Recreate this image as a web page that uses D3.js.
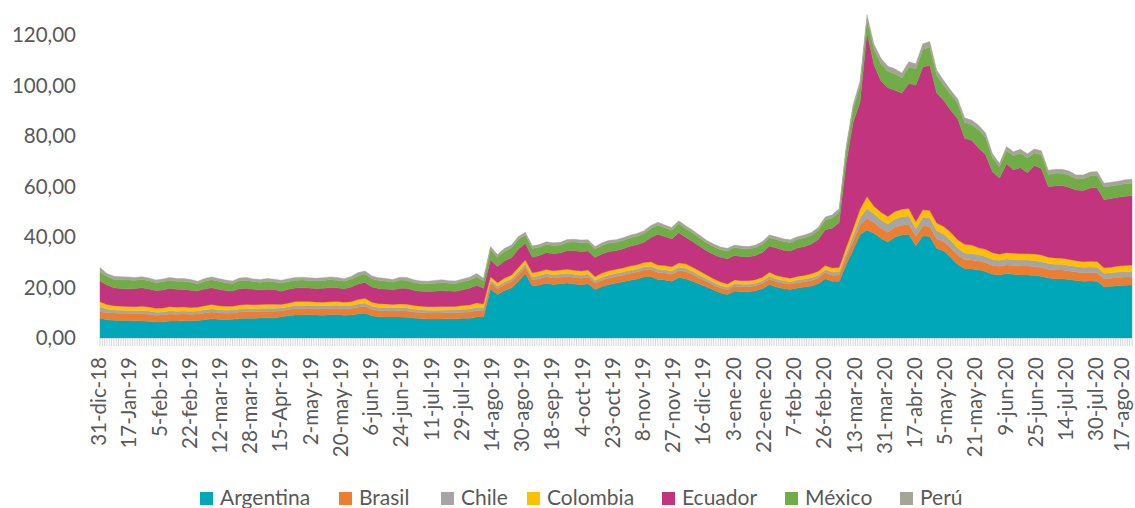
<html>
<head>
  <script src="https://d3js.org/d3.v7.min.js"></script>
  <style>
    body{
      margin: 0;
      background: #ffffff;
    }
    svg{
      display: block;
      font-family: Lato, "Open Sans", sans-serif;
    }
  </style>
</head>
<body>
  <script type="text/javascript">

    // business days on the category axis (31-dic-18 ... 19-ago-20), values read every 3rd day
    var nDays = 445;
    var sampleEvery = 3;
    var labelEvery = 13;

    var countries = ["Argentina","Brasil","Chile","Colombia","Ecuador","México","Perú"];
    var colors = ["#00A7B8","#ED7D31","#A5A5A5","#FFC000","#C3347F","#70AD47","#A4A497"];

    var tickLabels = ["31-dic-18","17-Jan-19","5-feb-19","22-feb-19","12-mar-19","28-mar-19","15-Apr-19",
      "2-may-19","20-may-19","6-jun-19","24-jun-19","11-jul-19","29-jul-19","14-ago-19","30-ago-19",
      "18-sep-19","4-oct-19","23-oct-19","8-nov-19","27-nov-19","16-dic-19","3-ene-20","22-ene-20",
      "7-feb-20","26-feb-20","13-mar-20","31-mar-20","17-abr-20","5-may-20","21-may-20","9-jun-20",
      "25-jun-20","14-jul-20","30-jul-20","17-ago-20"];

    var yTicks = [0,20,40,60,80,100,120];

    var argentina = [7.8,7.2,7.0,6.9,6.9,6.8,6.7,6.6,6.3,6.3,
      6.7,6.7,6.8,6.8,6.9,7.2,7.6,7.4,7.3,7.4,
      7.7,7.8,7.8,7.9,8.0,7.9,8.4,8.8,9.1,9.1,
      9.2,9.1,9.0,9.2,9.3,9.0,9.1,9.5,9.8,8.8,
      8.4,8.3,8.3,8.3,8.2,7.9,7.7,7.5,7.5,7.5,
      7.6,7.6,7.8,7.8,8.3,8.3,19.5,17.2,18.8,19.8,
      22.5,25.5,20.6,21.0,21.7,21.2,21.5,21.8,21.4,21.1,
      21.5,19.2,20.4,21.2,21.8,22.3,22.9,23.4,24.2,24.4,
      23.2,23.0,22.5,24.0,23.5,22.5,21.3,20.3,19.0,17.8,
      17.2,18.6,18.3,18.3,18.7,19.5,21.2,20.2,19.6,19.2,
      19.8,20.2,20.6,21.5,23.5,22.5,22.5,29.0,35.0,41.0,
      42.8,41.5,39.5,38.0,40.0,40.8,41.0,36.5,40.5,40.2,
      35.5,34.5,32.0,29.2,27.5,27.3,27.0,26.3,25.2,25.0,
      25.5,25.2,25.0,25.0,24.8,24.5,23.8,23.5,23.5,23.2,
      22.8,22.5,22.6,22.5,20.3,20.5,20.7,20.9,21.0];

    var brasil = [2.6,2.8,2.9,2.9,2.8,2.8,2.9,2.8,2.7,2.8,
      2.8,2.7,2.7,2.6,2.6,2.7,2.7,2.6,2.5,2.5,
      2.6,2.6,2.6,2.6,2.6,2.7,2.4,2.5,2.6,2.6,
      2.6,2.5,2.5,2.5,2.5,2.5,2.6,2.7,2.8,2.6,
      2.5,2.5,2.4,2.5,2.5,2.4,2.4,2.4,2.4,2.4,
      2.4,2.4,2.4,2.5,2.6,2.5,2.4,2.3,2.4,2.5,
      2.6,2.6,2.5,2.5,2.6,2.6,2.6,2.6,2.6,2.6,
      2.6,2.5,2.5,2.6,2.6,2.6,2.7,2.7,2.7,2.7,
      2.7,2.7,2.7,2.7,2.8,2.6,2.4,2.1,2.0,2.0,
      1.9,2.0,2.0,2.0,2.0,2.1,2.2,2.1,2.1,2.1,
      2.1,2.1,2.2,2.3,2.4,2.4,2.5,2.9,3.3,3.8,
      4.6,4.2,4.0,3.9,3.9,3.9,4.0,3.8,4.0,4.0,
      3.8,3.7,3.7,3.6,3.6,3.6,3.5,3.5,3.5,3.4,
      3.4,3.5,3.5,3.5,3.5,3.4,3.4,3.4,3.4,3.3,
      3.3,3.3,3.3,3.3,3.2,3.2,3.3,3.3,3.3];

    var chile = [2.0,1.5,1.2,1.2,1.2,1.2,1.3,1.3,1.2,1.2,
      1.3,1.2,1.2,1.2,1.2,1.3,1.3,1.2,1.2,1.2,
      1.2,1.3,1.2,1.2,1.2,1.2,1.1,1.1,1.2,1.2,
      1.2,1.2,1.2,1.2,1.2,1.2,1.2,1.3,1.3,1.2,
      1.2,1.2,1.2,1.2,1.2,1.2,1.1,1.1,1.1,1.1,
      1.1,1.1,1.2,1.2,1.3,1.2,1.0,1.0,1.0,1.1,
      1.2,1.2,1.1,1.2,1.2,1.2,1.2,1.2,1.2,1.2,
      1.2,1.1,1.2,1.2,1.2,1.2,1.2,1.2,1.3,1.3,
      1.3,1.3,1.3,1.3,1.3,1.2,1.2,1.1,1.1,1.0,
      1.0,1.0,1.0,1.0,1.0,1.1,1.1,1.1,1.1,1.0,
      1.1,1.1,1.1,1.1,1.2,1.2,1.2,1.6,2.2,2.8,
      4.0,3.5,3.3,3.2,3.2,3.3,3.3,3.0,3.3,3.3,
      3.2,3.0,3.0,2.8,2.6,2.6,2.5,2.5,2.4,2.4,
      2.4,2.4,2.4,2.4,2.4,2.4,2.3,2.3,2.3,2.2,
      2.2,2.2,2.2,2.2,2.1,2.1,2.1,2.0,2.0];

    var colombia = [2.0,1.8,1.7,1.6,1.6,1.6,1.7,1.6,1.6,1.6,
      1.6,1.6,1.6,1.5,1.5,1.6,1.7,1.6,1.6,1.5,
      1.6,1.6,1.6,1.6,1.6,1.6,1.4,1.4,1.6,1.6,
      1.5,1.5,1.5,1.5,1.5,1.5,1.5,1.7,1.8,1.6,
      1.5,1.5,1.4,1.5,1.5,1.4,1.4,1.4,1.4,1.5,
      1.4,1.4,1.5,1.6,1.7,1.5,1.4,1.4,1.5,1.5,
      1.6,1.6,1.6,1.6,1.6,1.6,1.6,1.6,1.6,1.6,
      1.6,1.5,1.6,1.6,1.6,1.6,1.7,1.7,1.7,1.8,
      1.7,1.7,1.7,1.7,1.8,1.7,1.6,1.5,1.4,1.4,
      1.3,1.4,1.4,1.4,1.4,1.4,1.5,1.4,1.4,1.4,
      1.4,1.4,1.5,1.5,1.6,1.6,1.7,2.2,2.8,3.4,
      4.6,3.0,3.0,3.0,3.0,3.0,3.0,2.8,3.0,3.0,
      3.0,3.0,3.2,3.3,3.4,3.3,2.7,2.8,2.7,2.4,
      2.5,2.5,2.5,2.5,2.6,2.6,2.5,2.5,2.4,2.4,
      2.3,2.2,2.3,2.3,2.2,2.2,2.4,2.5,2.6];

    var ecuador = [8.2,7.7,7.1,7.0,7.0,7.2,7.3,7.1,7.0,7.1,
      7.3,7.1,6.9,6.8,6.5,6.6,6.6,6.5,6.2,6.0,
      6.4,6.4,6.1,5.7,5.9,5.8,5.2,5.5,5.3,5.4,
      5.3,5.3,5.5,5.6,5.4,5.3,5.8,6.2,6.3,6.0,
      6.0,5.9,5.8,6.2,6.3,6.0,5.9,6.0,6.1,6.3,
      6.1,6.0,6.2,6.6,7.0,6.2,6.7,6.4,6.8,6.9,
      7.3,6.6,6.2,6.4,6.7,6.9,6.8,7.4,7.8,7.8,
      7.6,7.6,7.6,7.7,7.4,7.6,7.8,7.9,8.0,9.6,
      12.2,11.5,11.0,12.0,10.5,10.2,9.8,9.6,9.6,9.8,
      10.0,9.7,9.6,9.5,9.6,9.8,10.4,10.8,10.6,10.8,
      11.2,11.4,11.8,12.6,14.2,15.8,17.8,33.5,42.0,42.5,
      65.0,56.0,52.0,51.0,48.0,46.0,49.5,54.0,56.5,57.5,
      51.5,50.0,48.3,48.0,42.0,41.5,39.5,37.5,32.0,30.2,
      35.2,33.0,34.0,32.0,35.0,34.2,28.0,28.5,28.8,28.5,
      28.0,28.2,29.0,29.2,27.0,27.2,27.2,27.4,27.4];

    var mexico = [3.5,3.4,3.4,3.5,3.5,3.3,3.3,3.3,3.1,3.3,
      3.2,3.2,3.3,3.2,2.8,3.1,3.2,3.2,3.1,3.0,
      3.2,3.2,3.0,3.1,3.2,3.0,3.3,3.1,3.1,3.1,
      3.0,3.0,3.1,3.1,3.0,3.0,3.1,3.3,3.3,3.3,
      3.2,3.1,3.0,3.3,3.2,3.1,3.1,3.1,3.2,3.2,
      3.1,3.1,3.2,3.3,3.4,3.0,4.0,3.7,3.8,3.8,
      3.8,3.3,3.4,3.2,3.2,3.1,3.1,3.3,3.4,3.4,
      3.3,3.3,3.3,3.3,3.2,3.3,3.3,3.4,3.5,3.6,
      3.6,3.5,3.5,3.6,3.5,3.4,3.3,3.1,3.1,3.0,
      3.1,3.1,3.1,3.0,3.1,3.2,3.3,3.4,3.4,3.3,
      3.4,3.5,3.5,3.6,3.8,4.0,4.2,5.0,5.5,6.5,
      5.0,6.3,6.8,6.5,6.5,6.0,6.5,6.5,7.0,7.2,
      7.0,6.0,6.2,6.0,6.3,6.2,7.3,6.8,5.6,4.4,
      5.2,5.6,5.8,6.0,5.0,5.5,4.8,5.0,4.8,4.9,
      4.5,4.7,4.8,4.9,5.0,5.0,4.9,5.0,5.0];

    var peru = [1.8,1.1,1.2,1.2,1.2,1.1,1.1,1.1,1.1,1.1,
      1.1,1.1,1.1,1.1,1.0,1.1,1.1,1.1,1.1,1.0,
      1.1,1.1,1.1,1.1,1.1,1.1,1.1,1.1,1.1,1.1,
      1.1,1.1,1.1,1.1,1.1,1.0,1.1,1.2,1.2,1.1,
      1.1,1.1,1.1,1.1,1.1,1.1,1.0,1.0,1.1,1.1,
      1.0,1.0,1.1,1.1,1.2,1.0,1.2,1.1,1.2,1.2,
      1.2,1.1,1.1,1.1,1.1,1.1,1.1,1.1,1.1,1.1,
      1.1,1.0,1.1,1.1,1.1,1.1,1.1,1.1,1.1,1.2,
      1.1,1.1,1.1,1.1,1.1,1.1,1.1,1.0,1.0,1.0,
      1.0,1.0,1.0,1.0,1.0,1.1,1.1,1.1,1.1,1.1,
      1.1,1.1,1.1,1.2,1.2,1.3,1.3,1.5,1.6,1.8,
      2.0,1.8,2.2,2.0,2.0,2.0,2.1,2.0,2.2,2.2,
      2.0,1.8,1.8,1.8,1.8,1.8,1.8,1.8,1.6,1.4,
      1.6,1.6,1.6,1.6,1.6,1.6,1.6,1.6,1.6,1.6,
      1.5,1.5,1.5,1.5,1.5,1.5,1.5,1.6,1.6];

    var series = [argentina, brasil, chile, colombia, ecuador, mexico, peru];

    var drawChart = function(width, height){
      var svg = d3.select("body").append("svg")
      svg.attr("width", width)
         .attr("height", height)

      var plot = {left: 100, right: 1132, bottom: 338}

      // scales
      var xScale = d3.scaleLinear()
          .domain([0, nDays - 1])
          .range([plot.left, plot.right]);
      var yScale = d3.scaleLinear()
          .domain([0, 120])
          .range([plot.bottom, 35]);

      // table for the stack: one row per sampled day
      var rows = argentina.map(function(d, i){
        var row = {day: i * sampleEvery}
        countries.forEach(function(c, j){ row[c] = series[j][i] })
        return row
      })

      var stacked = d3.stack().keys(countries)(rows)

      var area = d3.area()
          .x(function(d){ return xScale(d.data.day) })
          .y0(function(d){ return yScale(d[0]) })
          .y1(function(d){ return yScale(d[1]) })

      svg.append("g").classed("areas", true)
         .selectAll("path")
         .data(stacked)
         .enter()
         .append("path")
         .attr("d", area)
         .attr("fill", function(d, i){ return colors[i] })
         .attr("stroke", function(d, i){ return colors[i] })
         .attr("stroke-width", 0.4)

      // category axis: a tick for every business day
      var xAxis = svg.append("g").classed("xAxis", true)
      xAxis.selectAll("line.tick")
           .data(d3.range(nDays))
           .enter()
           .append("line")
           .classed("tick", true)
           .attr("x1", function(d){ return xScale(d) })
           .attr("x2", function(d){ return xScale(d) })
           .attr("y1", plot.bottom)
           .attr("y2", plot.bottom + 8)
           .attr("stroke", "#D6D6D6")
           .attr("stroke-width", 1)
      xAxis.append("line")
           .attr("x1", plot.left)
           .attr("x2", plot.right)
           .attr("y1", plot.bottom + 0.5)
           .attr("y2", plot.bottom + 0.5)
           .attr("stroke", "#D9D9D9")

      // keep the last rotated label inside the picture
      xAxis.selectAll("text")
           .data(tickLabels)
           .enter()
           .append("text")
           .attr("transform", function(d, i){
             var x = Math.min(xScale(i * labelEvery), width - 12)
             return "translate(" + x + "," + (plot.bottom + 19) + ") rotate(-90)"
           })
           .attr("text-anchor", "end")
           .attr("dy", "0.3em")
           .attr("font-size", "20.5px")
           .attr("fill", "#595959")
           .text(function(d){ return d })

      // value axis labels, decimal comma
      var fmt = function(v){ return d3.format(".2f")(v).replace(".", ",") }
      svg.append("g").classed("yAxis", true)
         .selectAll("text")
         .data(yTicks)
         .enter()
         .append("text")
         .attr("x", 76)
         .attr("y", function(d){ return yScale(d) })
         .attr("dy", "0.36em")
         .attr("text-anchor", "end")
         .attr("font-size", "20.5px")
         .attr("fill", "#595959")
         .text(fmt)

      // legend
      var legendX = [200, 339, 441, 527, 662, 785, 900]
      var legend = svg.append("g").classed("legend", true)
      var items = legend.selectAll("g")
                        .data(countries)
                        .enter()
                        .append("g")
                        .attr("transform", function(d, i){ return "translate(" + legendX[i] + ",492)" })
      items.append("rect")
           .attr("width", 13)
           .attr("height", 13)
           .attr("fill", function(d, i){ return colors[i] })
      items.append("text")
           .attr("x", 20)
           .attr("y", 13)
           .attr("font-size", "21px")
           .attr("fill", "#595959")
           .text(function(d){ return d })
    }

    drawChart(1135, 508);

  </script>
</body>
</html>
